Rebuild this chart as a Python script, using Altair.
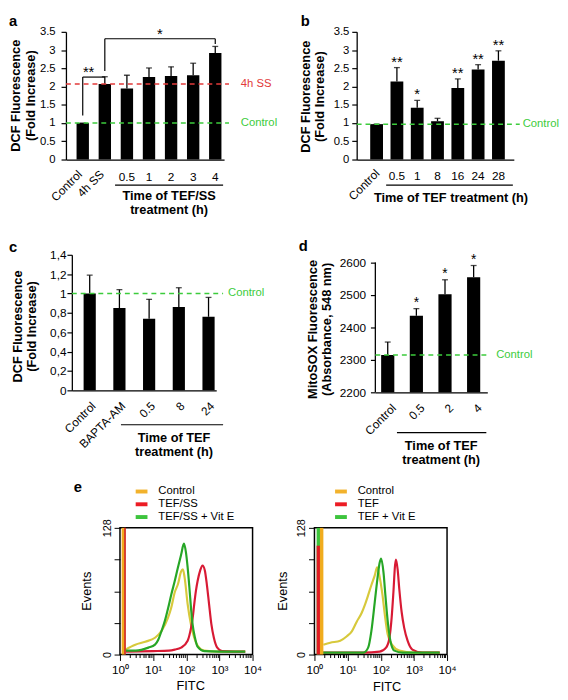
import json
import altair as alt
import pandas as pd

FONT = "Liberation Sans"
INK = "#000000"
RED = "#e23a3a"
GREEN = "#3ccc3c"

# ---------------- panel a ----------------
A_CATS = ["Control", "4h SS", "0.5", "1", "2", "3", "4"]
A_MEAN = [1.00, 2.07, 1.95, 2.26, 2.29, 2.31, 2.92]
A_ERR = [0.00, 0.20, 0.36, 0.25, 0.25, 0.33, 0.18]
A_ROTATED = ["Control", "4h SS"]
A_PLAIN = ["0.5", "1", "2", "3", "4"]
A_Y_TICKS = [0, 0.5, 1, 1.5, 2, 2.5, 3, 3.5]
A_REF_LEVELS = [2.07, 1.0]
A_REF_LABELS = ["4h SS", "Control"]
A_BR_X1 = ["Control", "Control", "4h SS", "4h SS", "4"]
A_BR_X2 = ["Control", "4h SS", "4h SS", "4", "4"]
A_BR_Y1 = [1.21, 2.26, 2.43, 3.31, 3.31]
A_BR_Y2 = [2.26, 2.26, 3.31, 3.31, 3.17]
A_BR_TEXT = ["**", "*"]
A_BR_TEXT_X = ["Control", "1"]
A_BR_TEXT_Y = [2.26, 3.31]
A_XTITLE = ["Time of TEF/SS", "treatment (h)"]
Y_TITLE_DCF = ["DCF Fluorescence", "(Fold Increase)"]

# ---------------- panel b ----------------
B_CATS = ["Control", "0.5", "1", "8", "16", "24", "28"]
B_MEAN = [0.97, 2.14, 1.42, 1.05, 1.96, 2.47, 2.71]
B_ERR = [0.00, 0.38, 0.20, 0.08, 0.25, 0.13, 0.27]
B_SIG = ["", "**", "*", "", "**", "**", "**"]
B_ROTATED = ["Control"]
B_PLAIN = ["0.5", "1", "8", "16", "24", "28"]
B_REF_LEVELS = [0.97]
B_REF_LABELS = ["Control"]
B_XTITLE = ["Time of TEF treatment (h)"]

# ---------------- panel c ----------------
C_CATS = ["Control", "BAPTA-AM", "0.5", "8", "24"]
C_MEAN = [1.00, 0.85, 0.74, 0.86, 0.76]
C_ERR = [0.19, 0.19, 0.20, 0.20, 0.20]
C_Y_TICKS = [0, 0.2, 0.4, 0.6, 0.8, 1.0, 1.2, 1.4]
C_REF_LEVELS = [1.0]
C_REF_LABELS = ["Control"]
C_XTITLE = ["Time of TEF", "treatment (h)"]

# ---------------- panel d ----------------
D_CATS = ["Control", "0.5", "2", "4"]
D_MEAN = [2315, 2436, 2502, 2555]
D_ERR = [40, 22, 45, 36]
D_SIG = ["", "*", "*", "*"]
D_Y_TICKS = [2200, 2300, 2400, 2500, 2600]
D_REF_LEVELS = [2315]
D_REF_LABELS = ["Control"]
D_XTITLE = ["Time of TEF", "treatment (h)"]
D_YTITLE = ["MitoSOX Fluorescence", "(Absorbance, 548 nm)"]

# ---------------- panel e (flow cytometry histograms) ----------------
E_X_TICKS = [m * 10 ** k for k in range(4) for m in range(1, 10)] + [10000]
E_X_MAJOR = [1, 10, 100, 1000, 10000]
E_X_LABELS = ["10\u2070", "10\u00b9", "10\u00b2", "10\u00b3", "10\u2074"]
E_Y_TICKS = [0, 32, 64, 96, 128]
E_Y_LABELED = [0, 128]
E_LEFT_NAMES = ["Control", "TEF/SS", "TEF/SS + Vit E"]
E_RIGHT_NAMES = ["Control", "TEF", "TEF + Vit E"]
E_SWATCH_COLORS = ["#f2b22c", "#ec1c24", "#3dc43d"]
E_LINE_COLORS = ["#d7c93c", "#d81a34", "#26a626"]

E1_CTRL_X = [1.45, 2.9, 5.8, 11.4, 18, 28, 35, 45, 56, 70, 79, 89, 110, 139, 174, 219, 346, 1000, 6000]
E1_CTRL_Y = [5, 10, 13, 17, 24, 37, 47, 63, 71, 84, 86, 78, 51, 30, 17, 9, 4, 3, 3]
E1_TEF_X = [1.5, 10, 30, 45, 70, 110, 139, 156, 174, 195, 219, 263, 309, 363, 417, 487, 570, 680, 860, 1200, 3000, 6000]
E1_TEF_Y = [3, 3.5, 4, 5, 7, 14, 27, 37, 51, 64, 74, 85, 90, 85, 71, 51, 31, 17, 7, 3.5, 3, 3]
E1_VITE_X = [1.45, 3, 7.2, 11.4, 14.3, 18, 22.6, 28.4, 35.5, 44.7, 56, 70, 85, 98, 110, 124, 139, 156, 183, 219, 346, 1000, 6000]
E1_VITE_Y = [4, 4, 7, 10, 15, 24, 34, 47, 61, 74, 88, 101, 112, 103, 88, 68, 47, 30, 17, 8, 3.5, 3, 3]
E1_SPIKE_X = [1.29, 1.42]
E1_SPIKE_TOP = [128, 128]

E2_CTRL_X = [1.86, 3, 6, 9.5, 13.4, 18.7, 26.5, 33, 41.7, 52, 66, 78, 93, 113, 133, 163, 231, 363, 1000, 6000]
E2_CTRL_Y = [10, 12, 14, 18.5, 23.5, 33, 42, 50, 60, 70, 80, 88, 78, 60, 40, 20, 9, 4, 2, 2]
E2_TEF_X = [1.4, 30, 93, 145, 183, 213, 241, 270, 288, 323, 363, 427, 510, 645, 900, 1780, 6000]
E2_TEF_Y = [2, 2, 3, 7, 17, 37, 63, 90, 96, 86, 66, 43, 27, 14, 5, 2, 2]
E2_VITE_X = [1.4, 10, 30, 41.7, 52, 66, 79, 93, 103, 121, 138, 163, 195, 257, 455, 6000]
E2_VITE_Y = [2, 2, 2, 7, 23.5, 53, 76, 93, 97, 83, 60, 33, 14, 4, 2, 2]
E2_SPIKE_X = [1.31, 1.31, 1.65]
E2_SPIKE_TOP = [128, 110, 128]


def one_row():
    return pd.DataFrame({"k": [0]})


def txt(s, x, y, size=12, bold=False, align="left", baseline="alphabetic", color=INK, angle=None):
    kw = dict(font=FONT, fontSize=size, fontWeight="bold" if bold else "normal",
              align=align, baseline=baseline, color=color)
    if angle is not None:
        kw["angle"] = angle
    return alt.Chart(one_row()).mark_text(**kw).encode(
        x=alt.value(x), y=alt.value(y), text=alt.value(s))


def hline(x0, x1, y, width=1.2, color=INK):
    return alt.Chart(one_row()).mark_rule(color=color, strokeWidth=width).encode(
        x=alt.value(x0), x2=alt.value(x1), y=alt.value(y))


def box(left, right, top, bottom):
    return alt.Chart(one_row()).mark_rect(opacity=0).encode(
        x=alt.value(-left), x2=alt.value(right), y=alt.value(-top), y2=alt.value(bottom))


def spacer():
    return alt.Chart(one_row()).mark_rect(opacity=0).encode(
        x=alt.value(0), x2=alt.value(1), y=alt.value(0), y2=alt.value(1)
    ).properties(width=1, height=1)


def bar_panel(c):
    W, H = c["W"], c["H"]
    cats = c["cats"]
    tops = [m + e for m, e in zip(c["mean"], c["err"])]
    sig = c.get("sig") or [""] * len(cats)
    df = pd.DataFrame({"cat": cats, "mean": c["mean"], "top": tops, "sig": sig})
    xs = alt.Scale(domain=cats, paddingInner=c["pi"], paddingOuter=c["po"], align=c["align"])
    ys = alt.Scale(domain=c["ydom"], nice=False, zero=False)

    def X(field):
        return alt.X(field, scale=xs)

    def Y(field):
        return alt.Y(field, scale=ys)

    label_expr = "toString(datum.value)"
    if c.get("comma"):
        label_expr = "replace(toString(datum.value), '.', ',')"
    ax = dict(values=c["yticks"], tickCount=40, labelExpr=label_expr, labelOverlap=False, title=None,
              tickSize=5, tickWidth=1.2, tickColor=INK,
              labelFont=FONT, labelFontSize=c.get("lsize", 12), labelColor=INK, labelPadding=c["lpad"],
              grid=False, domainColor=INK, domainWidth=1.3)
    if c.get("axis_line"):
        ax["domain"] = False
    xcat = alt.X("cat:N", scale=xs, axis=alt.Axis(labels=False, ticks=False, title=None, grid=False,
                                                  domainColor=INK, domainWidth=1.3))
    base = alt.Chart(df)
    L = [box(*c["box"])]
    L.append(base.mark_bar(color=INK).encode(
        x=xcat, y=alt.Y("mean:Q", scale=ys, axis=alt.Axis(**ax)), y2=alt.datum(c["ydom"][0])))
    L.append(base.mark_rule(color=INK, strokeWidth=1.3).encode(
        x=X("cat:N"), y=Y("mean:Q"), y2=alt.Y2("top")))
    L.append(base.mark_tick(color=INK, orient="horizontal", size=6, thickness=1.3).encode(
        x=X("cat:N"), y=Y("top:Q")))
    if c.get("axis_line"):
        adf = pd.DataFrame({"lo": [c["yticks"][0]], "hi": [c["yticks"][-1]]})
        L.append(alt.Chart(adf).mark_rule(color=INK, strokeWidth=1.3).encode(
            x=alt.value(0), y=Y("lo:Q"), y2=alt.Y2("hi")))
    if c.get("sig"):
        L.append(base.mark_text(font=FONT, fontSize=c["sig_size"], baseline="alphabetic",
                                dy=c["sig_dy"], color=INK).encode(
            x=X("cat:N"), y=Y("top:Q"), text="sig:N"))
    if c.get("brackets"):
        x1, x2, y1, y2 = c["brackets"]
        bdf = pd.DataFrame({"x1": x1, "x2": x2, "y1": y1, "y2": y2})
        L.append(alt.Chart(bdf).mark_rule(color=INK, strokeWidth=1.2).encode(
            x=X("x1:N"), x2=alt.X2("x2"), y=Y("y1:Q"), y2=alt.Y2("y2")))
        for t, tx, ty, dx in zip(c["br_text"], c["br_text_x"], c["br_text_y"], [6, 11]):
            tdf = pd.DataFrame({"cat": [tx], "lvl": [ty], "t": [t]})
            L.append(alt.Chart(tdf).mark_text(font=FONT, fontSize=15, baseline="alphabetic", dx=dx,
                                              color=INK).encode(
                x=X("cat:N"), y=Y("lvl:Q"), text="t:N"))
    for lvl, lab, col in zip(c["ref_levels"], c["ref_labels"], c["ref_colors"]):
        rdf = pd.DataFrame({"level": [lvl], "label": [lab]})
        rb = alt.Chart(rdf)
        L.append(rb.mark_rule(color=col, strokeWidth=1.5, strokeDash=[5, 4]).encode(
            x=alt.value(0), x2=alt.value(c["ref_len"]), y=Y("level:Q")))
        L.append(rb.mark_text(font=FONT, fontSize=11.5, align="left", baseline="middle", color=col).encode(
            x=alt.value(c["ref_lx"]), y=Y("level:Q"), text="label:N"))
    if c.get("rotated"):
        L.append(alt.Chart(pd.DataFrame({"cat": c["rotated"]})).mark_text(
            font=FONT, fontSize=12, angle=315, align="right", baseline="middle",
            dx=c["rot_d"], dy=c["rot_d"], color=INK).encode(
            x=X("cat:N"), y=alt.value(c["rot_y"]), text="cat:N"))
    if c.get("plain"):
        L.append(alt.Chart(pd.DataFrame({"cat": c["plain"]})).mark_text(
            font=FONT, fontSize=12, align="center", baseline="middle", color=INK).encode(
            x=X("cat:N"), y=alt.value(c["plain_y"]), text="cat:N"))
    u0, u1, uy = c["underline"]
    L.append(hline(u0, u1, uy))
    for i, line in enumerate(c["xtitle"]):
        L.append(txt(line, c["xt_x"], c["xt_y"] + 14 * i, 13, True, "center", "middle"))
    for line, x in zip(c["ytitle"], c["yt_x"]):
        L.append(txt(line, x, c["yt_y"], 13, True, "center", "middle", angle=270))
    lt, lx, ly = c["letter"]
    L.append(txt(lt, lx, ly, 15, True))
    return alt.layer(*L).properties(width=W, height=H)


def hist_panel(c):
    W, H = c["W"], c["H"]
    xs = alt.Scale(type="log", domain=[1, 10000], nice=False)
    ys = alt.Scale(domain=[0, 128], nice=False, zero=False)
    maj = json.dumps(E_X_MAJOR)
    labs = json.dumps(E_X_LABELS, ensure_ascii=False)
    is_major = f"indexof({maj}, datum.value) >= 0"
    xaxis = alt.Axis(values=E_X_TICKS, tickCount=100,
                     labelExpr=f"{is_major} ? {labs}[indexof({maj}, datum.value)] : ''",
                     tickSize={"condition": {"test": is_major, "value": 6}, "value": 3},
                     tickColor=INK, tickWidth=1, labelFont=FONT, labelFontSize=12, labelColor=INK,
                     labelPadding=4, labelOverlap=False, labelFlush=False, domain=False, grid=False, title=None)
    yaxis = alt.Axis(values=E_Y_TICKS, tickCount=40,
                     labelExpr=f"indexof({json.dumps(E_Y_LABELED)}, datum.value) >= 0 ? datum.label : ''",
                     labelAngle=270, labelAlign="center", labelBaseline="bottom", tickSize=6,
                     tickColor=INK, tickWidth=1, labelFont=FONT, labelFontSize=11, labelColor=INK,
                     labelPadding=2, labelOverlap=False, labelFlush=False, domain=False, grid=False, title=None)
    L = [box(*c["box"])]
    first = True
    for (xv, yv), col in zip(c["curves"], E_LINE_COLORS):
        df = pd.DataFrame({"fitc": xv, "events": yv})
        if first:
            enc = dict(x=alt.X("fitc:Q", scale=xs, axis=xaxis), y=alt.Y("events:Q", scale=ys, axis=yaxis))
            first = False
        else:
            enc = dict(x=alt.X("fitc:Q", scale=xs), y=alt.Y("events:Q", scale=ys))
        L.append(alt.Chart(df).mark_line(color=col, strokeWidth=2.2, interpolate="monotone").encode(**enc))
    for sx, stop, col, w in zip(c["spike_x"], c["spike_top"], c["spike_colors"], c["spike_w"]):
        sdf = pd.DataFrame({"fitc": [sx], "base": [0], "top": [stop]})
        L.append(alt.Chart(sdf).mark_rule(color=col, strokeWidth=w).encode(
            x=alt.X("fitc:Q", scale=xs), y=alt.Y("base:Q", scale=ys), y2=alt.Y2("top")))
    sx0, sx1, tx = c["legend_x"]
    for i, (name, col) in enumerate(zip(c["names"], E_SWATCH_COLORS)):
        ly = -37 + 13 * i
        L.append(alt.Chart(one_row()).mark_rect(color=col).encode(
            x=alt.value(sx0), x2=alt.value(sx1), y=alt.value(ly - 2), y2=alt.value(ly + 2)))
        L.append(txt(name, tx, ly, 11.5, False, "left", "middle"))
    L.append(txt("Events", c["ev_x"], H / 2, 13, False, "center", "middle", angle=270))
    L.append(txt("FITC", c["fitc_x"], c["fitc_y"], 13, False, "center", "middle"))
    if c.get("letter"):
        lt, lx, ly = c["letter"]
        L.append(txt(lt, lx, ly, 15, True))
    return alt.layer(*L).properties(width=W, height=H,
                                     view=alt.ViewBackground(stroke=INK, strokeWidth=1.5))


panel_a = bar_panel(dict(
    W=161, H=130, cats=A_CATS, mean=A_MEAN, err=A_ERR, pi=0.44, po=0.3, align=0.8,
    ydom=[0, 3.5], yticks=A_Y_TICKS, lpad=6, lsize=11.5, ytitle=Y_TITLE_DCF, yt_x=[-51, -36], yt_y=65,
    rotated=A_ROTATED, rot_y=143, rot_d=-2, plain=A_PLAIN, plain_y=148,
    ref_levels=A_REF_LEVELS, ref_labels=A_REF_LABELS, ref_colors=[RED, GREEN], ref_len=166, ref_lx=178,
    brackets=(A_BR_X1, A_BR_X2, A_BR_Y1, A_BR_Y2), br_text=A_BR_TEXT, br_text_x=A_BR_TEXT_X,
    br_text_y=A_BR_TEXT_Y, underline=(50, 160, 156), xtitle=A_XTITLE, xt_x=105, xt_y=167,
    letter=("a", -58, -6), box=(58, 214, 18, 211)))

panel_b = bar_panel(dict(
    W=160, H=130, cats=B_CATS, mean=B_MEAN, err=B_ERR, pi=0.37, po=0.555, align=0.6,
    ydom=[0, 3.5], yticks=A_Y_TICKS, lpad=3, lsize=11.5, ytitle=Y_TITLE_DCF, yt_x=[-52, -37], yt_y=66,
    rotated=B_ROTATED, rot_y=142, rot_d=0.7, plain=B_PLAIN, plain_y=147,
    ref_levels=B_REF_LEVELS, ref_labels=B_REF_LABELS, ref_colors=[GREEN], ref_len=166, ref_lx=169,
    sig=B_SIG, sig_size=15, sig_dy=-1, underline=(30, 159, 156), xtitle=B_XTITLE, xt_x=96, xt_y=169,
    letter=("b", -57, -6), box=(80, 200, 18, 211)))

panel_c = bar_panel(dict(
    W=147, H=138, cats=C_CATS, mean=C_MEAN, err=C_ERR, pi=0.59, po=0.225, align=0.88,
    ydom=[0, 1.4], yticks=C_Y_TICKS, comma=True, lpad=1, ytitle=Y_TITLE_DCF, yt_x=[-54.7, -40.5], yt_y=73,
    rotated=C_CATS, rot_y=152, rot_d=2.8,
    ref_levels=C_REF_LEVELS, ref_labels=C_REF_LABELS, ref_colors=[GREEN], ref_len=154, ref_lx=159,
    underline=(50, 154, 173), xtitle=C_XTITLE, xt_x=104, xt_y=187,
    letter=("c", -64, -3), box=(64, 210, 16, 227)))

panel_d = bar_panel(dict(
    W=114, H=140, cats=D_CATS, mean=D_MEAN, err=D_ERR, pi=0.54, po=0.225, align=0.45,
    ydom=[2200, 2624], yticks=D_Y_TICKS, axis_line=True, lpad=5, ytitle=D_YTITLE, yt_x=[-63, -49], yt_y=76,
    rotated=D_CATS, rot_y=154, rot_d=4.5,
    ref_levels=D_REF_LEVELS, ref_labels=D_REF_LABELS, ref_colors=[GREEN], ref_len=115, ref_lx=123,
    sig=D_SIG, sig_size=14, sig_dy=-1.5, underline=(22, 113, 181), xtitle=D_XTITLE, xt_x=67, xt_y=195,
    letter=("d", -78, -4), box=(99, 170, 16, 227)))

panel_e1 = hist_panel(dict(
    W=135, H=129, box=(112, 150, 50, 160), names=E_LEFT_NAMES,
    curves=[(E1_CTRL_X, E1_CTRL_Y), (E1_TEF_X, E1_TEF_Y), (E1_VITE_X, E1_VITE_Y)],
    spike_x=E1_SPIKE_X, spike_top=E1_SPIKE_TOP, spike_colors=["#f0ac1e", "#d01828"], spike_w=[4, 1.5],
    legend_x=(16, 28, 39), ev_x=-33, fitc_x=72, fitc_y=161, letter=("e", -47, -37)))

panel_e2 = hist_panel(dict(
    W=135, H=129, box=(46, 150, 50, 160), names=E_RIGHT_NAMES,
    curves=[(E2_CTRL_X, E2_CTRL_Y), (E2_TEF_X, E2_TEF_Y), (E2_VITE_X, E2_VITE_Y)],
    spike_x=E2_SPIKE_X, spike_top=E2_SPIKE_TOP, spike_colors=["#3dc43d", "#e01c24", "#f0ac1e"],
    spike_w=[3.5, 3.5, 3.5], legend_x=(21, 33, 44), ev_x=-32, fitc_x=74, fitc_y=162))

row1 = alt.hconcat(spacer(), panel_a, panel_b, spacing=0)
row2 = alt.hconcat(spacer(), panel_c, panel_d, spacing=0)
row3 = alt.hconcat(spacer(), panel_e1, panel_e2, spacing=0)

chart = alt.vconcat(row1, row2, row3, spacing=0).properties(padding=0).configure(
    font=FONT).configure_view(strokeWidth=0).configure_axis(grid=False, labelOverlap=False)

chart.save("out.html", embed_options={"renderer": "svg", "actions": False})
